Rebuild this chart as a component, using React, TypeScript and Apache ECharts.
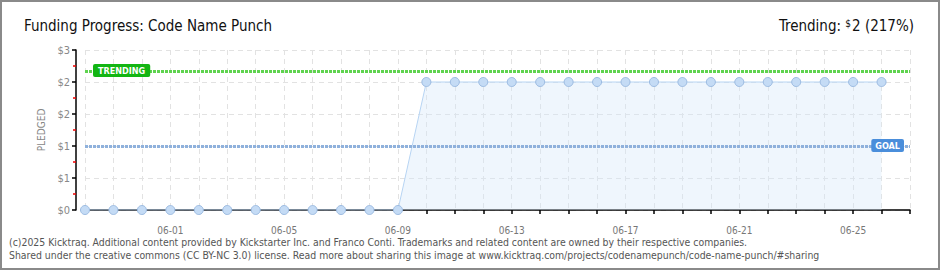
import React, { useEffect, useRef } from "react";
import * as echarts from "echarts";

const dates = [
  "05-29", "05-30", "05-31", "06-01", "06-02", "06-03", "06-04", "06-05", "06-06", "06-07",
  "06-08", "06-09", "06-10", "06-11", "06-12", "06-13", "06-14", "06-15", "06-16", "06-17",
  "06-18", "06-19", "06-20", "06-21", "06-22", "06-23", "06-24", "06-25", "06-26", "06-27",
];
const pledged = [
  0, 0, 0, 0, 0, 0, 0, 0, 0, 0, 0, 0,
  2, 2, 2, 2, 2, 2, 2, 2, 2, 2, 2, 2, 2, 2, 2, 2, 2,
];
const xTickLabels = ["06-01", "06-05", "06-09", "06-13", "06-17", "06-21", "06-25"];
const goal = 1;
const trending = 2.17;
const yMax = 2.5;
const yInterval = 0.5;
const titleText = "Funding Progress: Code Name Punch";
const trendingText = "Trending: ";
const trendingValue = "2";
const trendingPct = "(217%)";
const footer1 =
  "(c)2025 Kicktraq. Additional content provided by Kickstarter Inc. and Franco Conti. Trademarks and related content are owned by their respective companies.";
const footer2 =
  "Shared under the creative commons (CC BY-NC 3.0) license. Read more about sharing this image at www.kicktraq.com/projects/codenamepunch/code-name-punch/#sharing";

const FONT = "'DejaVu Sans Condensed', 'DejaVu Sans', sans-serif";

export default function App() {
  const ref = useRef<HTMLDivElement>(null);
  useEffect(() => {
    if (!ref.current) return;
    const chart = echarts.init(ref.current, null, { renderer: "svg" });
    chart.setOption({
      animation: false,
      backgroundColor: "#ffffff",
      textStyle: { fontFamily: FONT },
      title: [
        {
          text: titleText,
          left: 19,
          top: 13,
          textStyle: { fontSize: 15, fontWeight: "normal", color: "#111", fontFamily: FONT },
        },
        {
          text: "{a|" + trendingText + "}{s|$}{a|" + trendingValue + " " + trendingPct + "}",
          right: 21,
          top: 13,
          textStyle: {
            fontWeight: "normal",
            rich: {
              a: { fontSize: 15, fontWeight: "normal", color: "#111", fontFamily: FONT },
              s: { fontSize: 10, fontWeight: "normal", color: "#111", fontFamily: FONT, padding: [0, 1, 6, 0] },
            },
          },
        },
      ],
      graphic: [
        {
          type: "rect",
          shape: { x: 1, y: 1, width: 938, height: 268 },
          style: { fill: "none", stroke: "#8a8a8a", lineWidth: 2 },
          silent: true,
        },
        {
          type: "text",
          left: 9,
          top: 237,
          style: { text: footer1, fontSize: 10.4, fill: "#555", fontFamily: FONT },
        },
        {
          type: "text",
          left: 9,
          top: 250,
          style: { text: footer2, fontSize: 10.4, fill: "#555", fontFamily: FONT },
        },
      ],
      grid: { left: 85, right: 30, top: 50, bottom: 60, containLabel: false },
      xAxis: {
        type: "category",
        data: dates,
        boundaryGap: false,
        offset: 10,
        axisLine: { lineStyle: { color: "#000", width: 1.5 } },
        axisTick: { interval: 0, length: 4, lineStyle: { color: "#000", width: 1.5 } },
        axisLabel: {
          interval: (_i: number, v: string) => xTickLabels.indexOf(v) >= 0,
          color: "#777",
          fontSize: 10,
          margin: 5,
          fontFamily: FONT,
        },
        splitLine: {
          show: true,
          interval: 0,
          lineStyle: { color: "#e2e2e2", type: [5, 4], width: 1 },
        },
      },
      yAxis: {
        type: "value",
        min: 0,
        max: yMax,
        interval: yInterval,
        offset: 9,
        name: "PLEDGED",
        nameLocation: "middle",
        nameGap: 28,
        nameRotate: 90,
        nameTextStyle: { color: "#888", fontSize: 10, fontFamily: FONT },
        axisLine: { show: true, lineStyle: { color: "#000", width: 1.5 } },
        axisTick: { show: true, length: 4, lineStyle: { color: "#000", width: 1.5 } },
        minorTick: { show: true, splitNumber: 2, length: 3, lineStyle: { color: "#e00", width: 1.5 } },
        axisLabel: {
          formatter: (v: number) => "$" + Math.round(v),
          color: "#888",
          fontSize: 11,
          margin: 6,
          fontFamily: FONT,
        },
        splitLine: { show: true, lineStyle: { color: "#e2e2e2", type: [5, 4], width: 1 } },
      },
      series: [
        {
          type: "line",
          data: pledged,
          symbol: "circle",
          symbolSize: 9,
          itemStyle: { color: "#c4dbf5", borderColor: "#9dbce2", borderWidth: 1 },
          lineStyle: { color: "#b7d4f3", width: 1 },
          areaStyle: { color: "rgba(214,231,250,0.55)" },
          z: 3,
          markLine: {
            silent: true,
            symbol: "none",
            data: [
              {
                yAxis: trending,
                lineStyle: { color: "#5fd34f", type: [3, 1], width: 3 },
                label: {
                  show: true,
                  position: "insideStartTop",
                  formatter: "TRENDING",
                  distance: [8, -6],
                  color: "#fff",
                  fontSize: 9,
                  fontWeight: "bold",
                  backgroundColor: "#13b513",
                  borderRadius: 2,
                  padding: [2, 5, 2, 5],
                  fontFamily: FONT,
                },
              },
              {
                yAxis: goal,
                lineStyle: { color: "#8fb1dc", type: [3, 1], width: 3 },
                label: {
                  show: true,
                  position: "insideEndTop",
                  formatter: "GOAL",
                  distance: [6, -6],
                  color: "#fff",
                  fontSize: 9,
                  fontWeight: "bold",
                  backgroundColor: "#4a8edb",
                  borderRadius: 2,
                  padding: [2, 4, 2, 4],
                  fontFamily: FONT,
                },
              },
            ],
          },
        },
      ],
    });
    return () => chart.dispose();
  }, []);
  return (
    <div
      ref={ref}
      style={{ position: "absolute", left: 0, top: 0, width: 940, height: 270 }}
    />
  );
}
